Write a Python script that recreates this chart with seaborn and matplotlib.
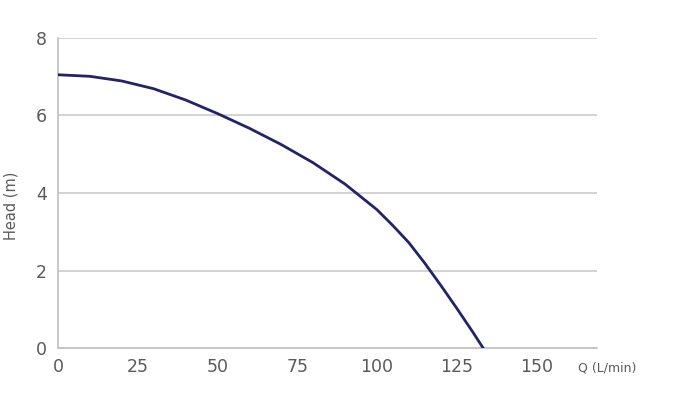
import pandas as pd
import matplotlib
matplotlib.use("Agg")
import matplotlib.pyplot as plt
import seaborn as sns

# Curva da bomba
flow = [0, 10, 20, 30, 40, 50, 60, 70, 80, 90, 100, 105, 110, 115, 120, 125, 130, 133.3]
head = [7.05, 7.01, 6.89, 6.69, 6.40, 6.05, 5.67, 5.25, 4.78, 4.23, 3.57, 3.16, 2.72, 2.19, 1.62, 1.03, 0.42, 0.0]
x_ticks = [0, 25, 50, 75, 100, 125, 150]
y_ticks = [0, 2, 4, 6, 8]

df = pd.DataFrame({"Q": flow, "Head": head})

sns.set_theme(style="white")
plt.rcParams["font.family"] = ["DejaVu Sans"]

fig = plt.figure(figsize=(6.78, 4.08), dpi=100)
ax = fig.add_axes([0.0855, 0.147, 0.795, 0.76])

sns.lineplot(data=df, x="Q", y="Head", ax=ax, color="#23226b", linewidth=2.0, zorder=3)

ax.set_xlim(0, 169)
ax.set_ylim(0, 8)
ax.set_xticks(x_ticks)
ax.set_yticks(y_ticks)
ax.yaxis.grid(True, color="#cccccc", linewidth=1.2)
ax.xaxis.grid(False)

for s in ["top", "right"]:
    ax.spines[s].set_visible(False)
for s in ["left", "bottom"]:
    ax.spines[s].set_color("#c0c0c0")
    ax.spines[s].set_linewidth(1.2)

ax.tick_params(axis="both", colors="#c0c0c0", labelcolor="#5a5a5a", labelsize=12.5,
               length=5, width=1.2, direction="out")
ax.tick_params(axis="x", pad=2)
ax.tick_params(axis="y", pad=3)

ax.set_xlabel("")
ax.set_ylabel("")
fig.text(0.016, 0.495, "Head (m)", fontsize=10.5, color="#5a5a5a",
         rotation=90, ha="center", va="center")
fig.text(0.853, 0.097, "Q (L/min)", fontsize=9, color="#5a5a5a", ha="left", va="center")

fig.savefig("out.png", dpi=100)
